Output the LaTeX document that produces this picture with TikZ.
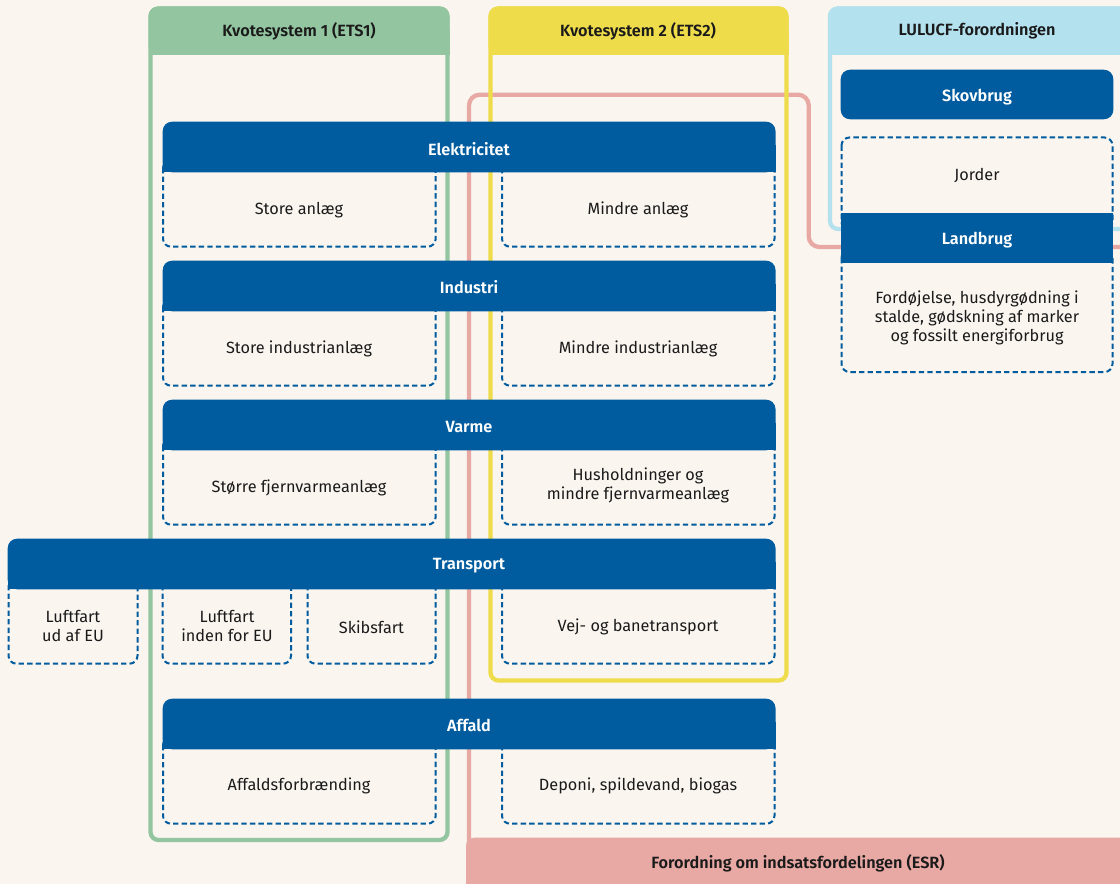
\documentclass[tikz,border=0pt]{standalone}
\usepackage{fontspec}
\setmainfont{Fira Sans}[BoldFont={Fira Sans SemiBold}]
\usepackage{tikz}
\definecolor{bgcream}{HTML}{FAF5EF}
\definecolor{secblue}{HTML}{005C9E}
\definecolor{etsgreen}{HTML}{93C5A0}
\definecolor{etsyellow}{HTML}{EEDC4B}
\definecolor{lulublue}{HTML}{B4E1EE}
\definecolor{esrpink}{HTML}{E8A9A5}
\definecolor{txtdark}{HTML}{1A1A1A}

\begin{document}
\begin{tikzpicture}[x=0.75pt,y=0.75pt,yscale=-1,xscale=1,
    frameline/.style={line width=3.2pt, rounded corners=6pt},
    subbox/.style={draw=secblue, fill=bgcream, line width=1.5pt, dash pattern=on 4pt off 2.4pt, rounded corners=6pt},
    hdrtext/.style={text=white, font=\bfseries\fontsize{12.2}{13}\selectfont, inner sep=0.75pt},
    frametext/.style={text=txtdark, font=\bfseries\fontsize{12.2}{13}\selectfont, inner sep=0.75pt},
    boxtext/.style={text=txtdark, font=\fontsize{12.2}{14.2}\selectfont, align=center, inner sep=0.75pt}]
    \clip (0,0) rectangle (1120,884);
    \fill [bgcream] (0,0) rectangle (1120,884);

    %Shape: ESR line and bar
    \draw [esrpink, line width=3.2pt, rounded corners=8pt] (469,845) -- (469,94.7) -- (808.7,94.7) -- (808.7,247) -- (1130,247) ;
    \fill [esrpink, rounded corners=6pt] (466,837.7) rectangle (1130,900) ;

    %Shape: Frame ETS1
    \draw [etsgreen, frameline] (150.5,8.5) rectangle (447.5,840) ;
    \fill [etsgreen, rounded corners=7pt] (148.5,6.5) rectangle (449.5,55) ;
    \fill [etsgreen] (148.5,30) rectangle (449.5,55) ;
    %Shape: Frame ETS2
    \draw [etsyellow, frameline] (490.5,8.5) rectangle (786.5,680.5) ;
    \fill [etsyellow, rounded corners=7pt] (488.5,6.5) rectangle (788.5,55) ;
    \fill [etsyellow] (488.5,30) rectangle (788.5,55) ;
    %Shape: Frame LULUCF
    \draw [lulublue, frameline] (830,8.5) rectangle (1140,229) ;
    \fill [lulublue, rounded corners=7pt] (828,6.5) rectangle (1140,55) ;
    \fill [lulublue] (828,30) rectangle (1140,55) ;

    %Shape: Dashed boxes
    \draw [subbox] (163,160) rectangle (435.7,246.7) ;
    \draw [subbox] (502,160) rectangle (774.5,246.7) ;
    \draw [subbox] (163,299) rectangle (435.7,385.7) ;
    \draw [subbox] (502,299) rectangle (774.5,385.7) ;
    \draw [subbox] (163,438) rectangle (435.7,524.7) ;
    \draw [subbox] (502,438) rectangle (774.5,524.7) ;
    \draw [subbox] (8.5,577) rectangle (137.5,663.7) ;
    \draw [subbox] (162.5,577) rectangle (291,663.7) ;
    \draw [subbox] (307.5,577) rectangle (435.7,663.7) ;
    \draw [subbox] (502,577) rectangle (774.5,663.7) ;
    \draw [subbox] (163,737) rectangle (435.7,823.7) ;
    \draw [subbox] (502,737) rectangle (774.5,823.7) ;
    \draw [subbox] (841.5,137.5) rectangle (1112.5,230) ;
    \draw [subbox] (841.5,250) rectangle (1112.5,372) ;

    %Shape: Blue headers
    \fill [secblue, rounded corners=7pt] (162.7,121.7) rectangle (775.5,172.3) ;
    \fill [secblue] (162.7,145) rectangle (775.5,172.3) ;
    \fill [secblue, rounded corners=7pt] (162.7,260.7) rectangle (775.5,311.3) ;
    \fill [secblue] (162.7,284) rectangle (775.5,311.3) ;
    \fill [secblue, rounded corners=7pt] (162.7,399.7) rectangle (775.5,450.3) ;
    \fill [secblue] (162.7,423) rectangle (775.5,450.3) ;
    \fill [secblue, rounded corners=7pt] (7.7,538.7) rectangle (775.5,589.3) ;
    \fill [secblue] (7.7,562) rectangle (775.5,589.3) ;
    \fill [secblue, rounded corners=7pt] (162.7,698.7) rectangle (775.5,749.3) ;
    \fill [secblue] (162.7,722) rectangle (775.5,749.3) ;
    \fill [secblue, rounded corners=7pt] (840.7,69.7) rectangle (1113.3,119.3) ;
    \fill [secblue] (840.7,213) rectangle (1113.3,263.3) ;

    % Text Node
    \node [frametext] (ets1) at (299,31) {Kvotesystem 1 (ETS1)};
    % Text Node
    \node [frametext] (ets2) at (638,31) {Kvotesystem 2 (ETS2)};
    % Text Node
    \node [frametext] (lulucf) at (977,31) {LULUCF-forordningen};
    % Text Node
    \node [frametext] (esr) at (798,863) {Forordning om indsatsfordelingen (ESR)};

    % Text Node
    \node [hdrtext] (elektricitet) at (469,149) {Elektricitet};
    % Text Node
    \node [hdrtext] (industri) at (469,287.5) {Industri};
    % Text Node
    \node [hdrtext] (varme) at (469,426.5) {Varme};
    % Text Node
    \node [hdrtext] (transport) at (469,565.5) {Transport};
    % Text Node
    \node [hdrtext] (affald) at (469,725.5) {Affald};
    % Text Node
    \node [hdrtext] (skovbrug) at (977,97) {Skovbrug};
    % Text Node
    \node [hdrtext] (landbrug) at (977,240.5) {Landbrug};

    % Text Node
    \node [boxtext] (storeanlaeg) at (299,210) {Store anlæg};
    % Text Node
    \node [boxtext] (mindreanlaeg) at (638,210) {Mindre anlæg};
    % Text Node
    \node [boxtext] (storeind) at (299,349) {Store industrianlæg};
    % Text Node
    \node [boxtext] (mindreind) at (638,349) {Mindre industrianlæg};
    % Text Node
    \node [boxtext] (fjernstor) at (299,488) {Større fjernvarmeanlæg};
    % Text Node
    \node [boxtext] (husholdning) at (638,485) {Husholdninger og\\mindre fjernvarmeanlæg};
    % Text Node
    \node [boxtext] (luftud) at (73,626) {Luftfart\\ud af EU};
    % Text Node
    \node [boxtext] (luftinden) at (227,626) {Luftfart\\inden for EU};
    % Text Node
    \node [boxtext] (skibsfart) at (371.5,627) {Skibsfart};
    % Text Node
    \node [boxtext] (vejbane) at (638,627) {Vej- og banetransport};
    % Text Node
    \node [boxtext] (affaldsforb) at (299,785.5) {Affaldsforbrænding};
    % Text Node
    \node [boxtext] (deponi) at (638,785.5) {Deponi, spildevand, biogas};
    % Text Node
    \node [boxtext] (jorder) at (977,176) {Jorder};
    % Text Node
    \node [boxtext] (fordoejelse) at (977,317.5) {Fordøjelse, husdyrgødning i\\stalde, gødskning af marker\\og fossilt energiforbrug};
\end{tikzpicture}
\end{document}
